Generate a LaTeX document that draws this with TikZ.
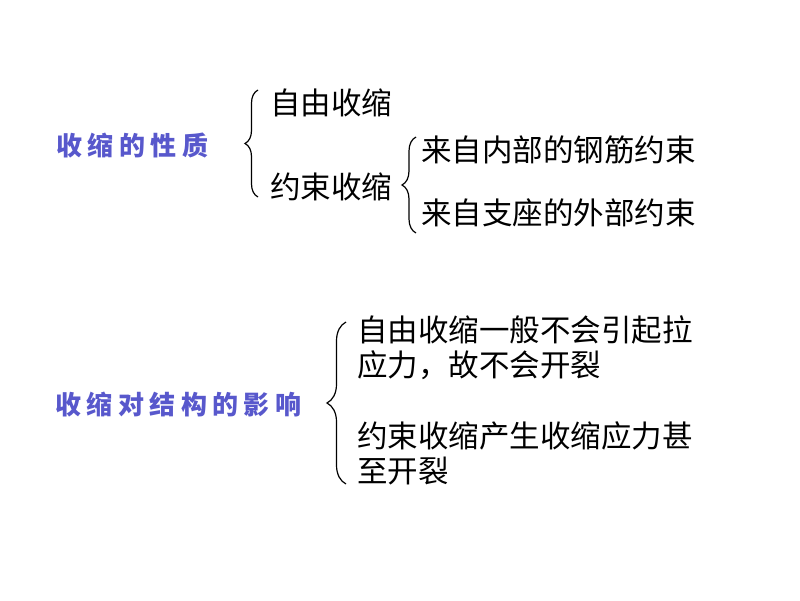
\documentclass[tikz,border=0pt]{standalone}
\usepackage{fontspec}
\usepackage{tikz}
\usetikzlibrary{decorations.pathreplacing, positioning}
\newfontfamily\cjk{Noto Sans CJK SC}
\newfontfamily\cjklabel[LetterSpace=21]{Noto Sans CJK SC}
\definecolor{labelblue}{RGB}{88,88,204}

\begin{document}
\begin{tikzpicture}[
			x=1pt, y=-1pt,
			topic/.style={anchor=west, inner sep=0pt, text=labelblue, font=\cjklabel\bfseries\fontsize{26}{30}\selectfont},
			item/.style={anchor=west, inner sep=0pt, align=left, font=\cjk\fontsize{30.5}{35}\selectfont},
			curly/.style={decorate, decoration={brace, amplitude=#1}, line width=1.2pt}
		]
		\useasboundingbox (0,0) rectangle (800,600);
		% properties of shrinkage
		\node[topic] (prop) at (56,146) {收缩的性质};
		\node[item] (free) at (270,103) {自由收缩};
		\node[item] (restr) at (270,187) {约束收缩};
		\node[item] (inner) at (421,150) {来自内部的钢筋约束};
		\node[item] (outer) at (421,213) {来自支座的外部约束};
		\coordinate (b1t) at (258,90);
		\coordinate (b1b) at (258,197);
		\coordinate (b2t) at (416,137);
		\coordinate (b2b) at (416,233);
		\draw[curly=13pt] (b1b) -- (b1t);
		\draw[curly=14pt] (b2b) -- (b2t);
		% effect on the structure
		\node[topic] (effect) at (55,405) {收缩对结构的影响};
		\node[item] (nocrack) at (357,347.5) {自由收缩一般不会引起拉\\应力，故不会开裂};
		\node[item] (crack) at (357,453.5) {约束收缩产生收缩应力甚\\至开裂};
		\coordinate (b3t) at (346,322);
		\coordinate (b3b) at (346,484);
		\draw[curly=19pt] (b3b) -- (b3t);
	\end{tikzpicture}
\end{document}
